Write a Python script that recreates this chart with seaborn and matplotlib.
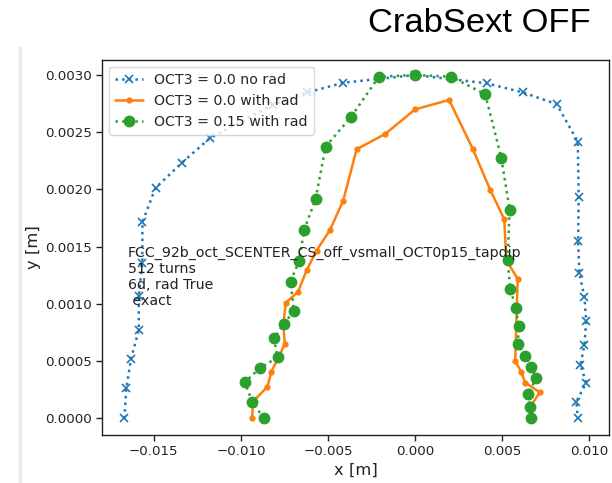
import matplotlib
matplotlib.use("Agg")
import matplotlib.pyplot as plt
from matplotlib.lines import Line2D
import seaborn as sns
import pandas as pd

# Dynamic aperture scans (x, y in metres)
x_norad = [-0.01668, -0.01658, -0.01630, -0.01586, -0.01586, -0.01566, -0.01565,
           -0.01490, -0.01340, -0.01179, -0.00815, -0.00620, -0.00413, 0.00000,
           0.00412, 0.00619, 0.00812, 0.00933, 0.00938, 0.00935, 0.00942,
           0.00971, 0.00981, 0.00971, 0.00948, 0.00981, 0.00925, 0.00933]
y_norad = [0.0000, 0.000262, 0.000521, 0.000772, 0.001069, 0.001354, 0.001715,
           0.002013, 0.002231, 0.002447, 0.002742, 0.002847, 0.002932, 0.003000,
           0.002927, 0.002847, 0.002745, 0.002417, 0.001937, 0.001552, 0.001272,
           0.001057, 0.000853, 0.000641, 0.000466, 0.000311, 0.000145, 0.0000]

x_rad = [-0.00936, -0.00930, -0.00848, -0.00825, -0.00748, -0.00757, -0.00742,
         -0.00672, -0.00623, -0.00566, -0.00489, -0.00413, -0.00336, -0.00173,
         0.00000, 0.00195, 0.00331, 0.00431, 0.00511, 0.00523, 0.00588,
         0.00574, 0.00607, 0.00632, 0.00714, 0.00661, 0.00666]
y_rad = [0.0000, 0.000147, 0.000276, 0.000407, 0.000649, 0.000824, 0.001010,
         0.001106, 0.001293, 0.001466, 0.001646, 0.001902, 0.002351, 0.002484,
         0.002700, 0.002782, 0.002351, 0.001995, 0.001739, 0.001383, 0.001217,
         0.000503, 0.000407, 0.000311, 0.000227, 0.000101, 0.0000]

x_oct = [-0.00869, -0.00934, -0.00978, -0.00892, -0.00790, -0.00810, -0.00754,
         -0.00696, -0.00715, -0.00666, -0.00637, -0.00572, -0.00514, -0.00370,
         -0.00208, 0.00000, 0.00206, 0.00402, 0.00494, 0.00542, 0.00530,
         0.00546, 0.00578, 0.00593, 0.00590, 0.00632, 0.00665, 0.00695,
         0.00647, 0.00661, 0.00666]
y_oct = [0.0000, 0.000145, 0.000315, 0.000437, 0.000533, 0.000699, 0.000824,
         0.000940, 0.001194, 0.001377, 0.001646, 0.001914, 0.002373, 0.002630,
         0.002985, 0.003000, 0.002985, 0.002831, 0.002277, 0.001820, 0.001381,
         0.001127, 0.000961, 0.000807, 0.000647, 0.000547, 0.000451, 0.000350,
         0.000212, 0.000101, 0.0000]

labels = ["OCT3 = 0.0 no rad", "OCT3 = 0.0 with rad", "OCT3 = 0.15 with rad"]
info_text = "FCC_92b_oct_SCENTER_CS_off_vsmall_OCT0p15_tapdip\n512 turns\n6d, rad True\n exact"
title_text = "CrabSext OFF"

sns.set_style("ticks")
plt.rcParams["font.family"] = ["DejaVu Sans"]

fig = plt.figure(figsize=(6.12, 4.83), dpi=100)
ax = fig.add_axes([102 / 612, 48 / 483, 507 / 612, 375 / 483])

blue, orange, green = "#1f77b4", "#ff7f0e", "#2ca02c"

sns.lineplot(data=pd.DataFrame({"x": x_norad, "y": y_norad}), x="x", y="y",
             sort=False, estimator=None, ax=ax, color=blue, linestyle=":",
             linewidth=1.8, marker="x", markersize=6.2, markeredgecolor=blue,
             markeredgewidth=1.2, label=labels[0])
sns.lineplot(data=pd.DataFrame({"x": x_rad, "y": y_rad}), x="x", y="y",
             sort=False, estimator=None, ax=ax, color=orange, linestyle="-",
             linewidth=1.8, marker=".", markersize=7, markeredgecolor=orange,
             markeredgewidth=1.0, label=labels[1])
sns.lineplot(data=pd.DataFrame({"x": x_oct, "y": y_oct}), x="x", y="y",
             sort=False, estimator=None, ax=ax, color=green, linestyle=":",
             linewidth=1.8, marker="o", markersize=7.5, markeredgecolor=green,
             markeredgewidth=1.0, label=labels[2])

ax.set_xlim(-0.01797, 0.01112)
ax.set_ylim(-0.000146, 0.003131)
ax.set_xticks([-0.015, -0.010, -0.005, 0.0, 0.005, 0.010])
ax.set_yticks([0.0, 0.0005, 0.0010, 0.0015, 0.0020, 0.0025, 0.0030])
ax.set_xticklabels(["\u22120.015", "\u22120.010", "\u22120.005", "0.000", "0.005", "0.010"])
ax.set_yticklabels(["0.0000", "0.0005", "0.0010", "0.0015", "0.0020", "0.0025", "0.0030"])
ax.tick_params(labelsize=9.6, length=4, width=1, color="#222222", labelcolor="#222222")
for s in ax.spines.values():
    s.set_visible(True)
    s.set_color("#222222")
    s.set_linewidth(1.0)

ax.set_xlabel("x [m]", fontsize=11.8, labelpad=3, color="#222222")
ax.set_ylabel("y [m]", fontsize=11.8, labelpad=3, color="#222222")

ax.text(0.0507, 0.505, info_text, transform=ax.transAxes, ha="left", va="top",
        fontsize=10.2, color="#222222", linespacing=1.2)

leg = ax.legend(loc="upper left", fontsize=10.2, frameon=True, framealpha=0.8,
                edgecolor="#cccccc", borderaxespad=0.5, handlelength=2.0)

fig.text(368 / 612, (483 - 32) / 483, title_text, fontsize=24.8,
         family="Liberation Sans", ha="left", va="baseline", color="black")

fig.add_artist(Line2D([19.5 / 612, 19.5 / 612], [0, (483 - 48) / 483],
                      transform=fig.transFigure, color="#ebeae4", linewidth=2.5))

fig.savefig("out.png", dpi=100)
